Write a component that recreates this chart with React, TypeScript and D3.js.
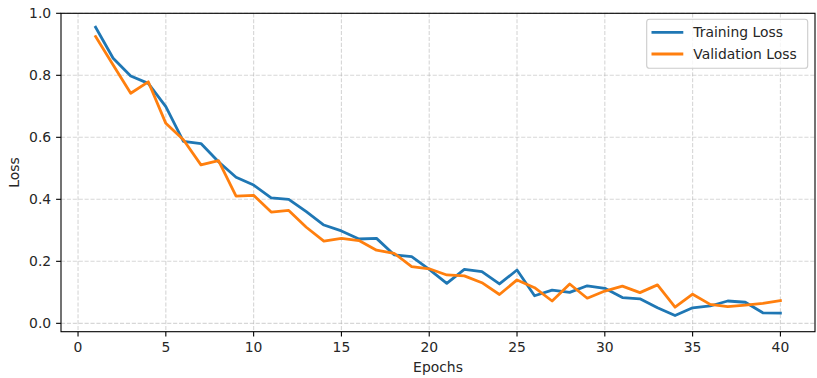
import React from 'react';
import * as d3 from 'd3';

// values
const epochs = [1, 2, 3, 4, 5, 6, 7, 8, 9, 10, 11, 12, 13, 14, 15, 16, 17, 18, 19, 20,
  21, 22, 23, 24, 25, 26, 27, 28, 29, 30, 31, 32, 33, 34, 35, 36, 37, 38, 39, 40];
const trainingLoss = [0.955, 0.855, 0.798, 0.774, 0.699, 0.587, 0.58, 0.521, 0.471, 0.446,
  0.405, 0.4, 0.36, 0.317, 0.298, 0.272, 0.274, 0.221, 0.215, 0.174,
  0.129, 0.174, 0.167, 0.127, 0.172, 0.089, 0.107, 0.1, 0.121, 0.113,
  0.083, 0.079, 0.05, 0.025, 0.05, 0.056, 0.072, 0.068, 0.034, 0.033];
const validationLoss = [0.925, 0.833, 0.742, 0.779, 0.645, 0.592, 0.511, 0.525, 0.41, 0.413,
  0.359, 0.364, 0.31, 0.265, 0.274, 0.267, 0.236, 0.226, 0.183, 0.176,
  0.156, 0.153, 0.131, 0.093, 0.14, 0.115, 0.072, 0.127, 0.081, 0.104,
  0.12, 0.099, 0.124, 0.052, 0.094, 0.061, 0.054, 0.059, 0.064, 0.073];
const xTicks = [0, 5, 10, 15, 20, 25, 30, 35, 40];
const yTicks = [0, 0.2, 0.4, 0.6, 0.8, 1.0];

const series = [
  { name: 'Training Loss', values: trainingLoss, color: '#1f77b4' },
  { name: 'Validation Loss', values: validationLoss, color: '#ff7f0e' },
];

const width = 817;
const height = 378;
const left = 61;
const right = 815;
const top = 13.3;
const bottom = 331.7;
const font = 'DejaVu Sans, sans-serif';
const fs = 13.9;

const App = () => {
  const x = d3.scaleLinear().domain([-0.97, 41.97]).range([left, right]);
  const y = d3.scaleLinear().domain([-0.027, 1.0]).range([bottom, top]);

  const line = d3
    .line<number>()
    .x((d, i) => x(epochs[i]))
    .y((d) => y(d));

  return (
    <div style={{ position: 'absolute', left: 0, top: 0 }}>
      <svg width={width} height={height} style={{ display: 'block', background: '#fff' }}>
        {/* grid */}
        <g stroke="#b0b0b0" strokeOpacity={0.5} strokeWidth={1.1} strokeDasharray="4.1,1.8">
          {xTicks.map((t) => (
            <line key={'gx' + t} x1={x(t)} x2={x(t)} y1={top} y2={bottom} />
          ))}
          {yTicks.map((t) => (
            <line key={'gy' + t} x1={left} x2={right} y1={y(t)} y2={y(t)} />
          ))}
        </g>

        {/* lines */}
        {series.map((s) => (
          <path
            key={s.name}
            d={line(s.values) || ''}
            fill="none"
            stroke={s.color}
            strokeWidth={2.78}
            strokeLinejoin="round"
            strokeLinecap="square"
          />
        ))}

        {/* spines */}
        <rect x={left} y={top} width={right - left} height={bottom - top} fill="none" stroke="#000" strokeWidth={1.1} />

        {/* x ticks */}
        {xTicks.map((t) => (
          <g key={'xt' + t}>
            <line x1={x(t)} x2={x(t)} y1={bottom} y2={bottom + 4.9} stroke="#000" strokeWidth={1.1} />
            <text x={x(t)} y={bottom + 20.3} textAnchor="middle" fontFamily={font} fontSize={fs} fill="#262626">
              {t}
            </text>
          </g>
        ))}

        {/* y ticks */}
        {yTicks.map((t) => (
          <g key={'yt' + t}>
            <line x1={left - 4.9} x2={left} y1={y(t)} y2={y(t)} stroke="#000" strokeWidth={1.1} />
            <text x={left - 9.8} y={y(t)} dy="0.36em" textAnchor="end" fontFamily={font} fontSize={fs} fill="#262626">
              {t.toFixed(1)}
            </text>
          </g>
        ))}

        {/* axis labels */}
        <text x={(left + right) / 2} y={372} textAnchor="middle" fontFamily={font} fontSize={fs} fill="#262626">
          Epochs
        </text>
        <text
          transform={`translate(19,${(top + bottom) / 2}) rotate(-90)`}
          textAnchor="middle"
          fontFamily={font}
          fontSize={fs}
          fill="#262626"
        >
          Loss
        </text>

        {/* legend */}
        <g>
          <rect x={646.7} y={19.3} width={161} height={49} rx={2.8} fill="#fff" fillOpacity={0.8} stroke="#cccccc" strokeWidth={1.1} />
          {series.map((s, i) => {
            const ly = 32.3 + i * 21.7;
            return (
              <g key={'lg' + s.name}>
                <line x1={651.5} x2={683.3} y1={ly} y2={ly} stroke={s.color} strokeWidth={2.78} />
                <text x={693.3} y={ly} dy="0.36em" fontFamily={font} fontSize={fs} fill="#262626">
                  {s.name}
                </text>
              </g>
            );
          })}
        </g>
      </svg>
    </div>
  );
};

export default App;
